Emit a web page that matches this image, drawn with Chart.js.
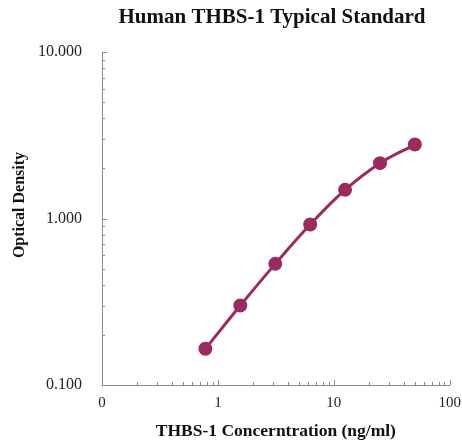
<!DOCTYPE html>
<html>
<head>
<meta charset="utf-8">
<script src="https://cdn.jsdelivr.net/npm/chart.js@4"></script>
<style>
  html, body { margin: 0; padding: 0; background: #fff; }
  #wrap { width: 462px; height: 442px; position: relative; }
</style>
</head>
<body>
<div id="wrap"><canvas id="chart"></canvas></div>
<script>
const title = 'Human THBS-1 Typical Standard';
const xTitle = 'THBS-1 Concerntration (ng/ml)';
const yTitle = 'Optical Density';

const concentrations = [0.78, 1.56, 3.125, 6.25, 12.5, 25, 50];
const densities = [0.165, 0.300, 0.534, 0.920, 1.486, 2.15, 2.78];

const xTicks = [0.1, 1, 10, 100];
const yTicks = [0.1, 1, 10];

const lineColor = '#9a2a5f';
const axisColor = '#8a8a8a';
const serif = "'Liberation Serif', 'Times New Roman', serif";

// minor ticks drawn inward like the original, plus the titles
const decorPlugin = {
    id: 'decor',
    afterDraw: (chart) => {
        const ctx = chart.ctx;
        const area = chart.chartArea;
        const xs = chart.scales.x;
        const ys = chart.scales.y;
        ctx.save();
        ctx.strokeStyle = axisColor;
        ctx.lineWidth = 1;
        for (let d = 0.1; d < 100; d *= 10) {
            for (let m = 1; m <= 10; m++) {
                let v = d * m;
                let len = (m == 1 || m == 10) ? 5 : 3;
                let px = Math.round(xs.getPixelForValue(v)) + 0.5;
                ctx.beginPath();
                ctx.moveTo(px, area.bottom);
                ctx.lineTo(px, area.bottom - len);
                ctx.stroke();
                if (d < 10) {
                    let py = Math.round(ys.getPixelForValue(v)) + 0.5;
                    ctx.beginPath();
                    ctx.moveTo(area.left, py);
                    ctx.lineTo(area.left + len, py);
                    ctx.stroke();
                }
            }
        }
        ctx.fillStyle = '#111';
        ctx.textAlign = 'center';
        ctx.textBaseline = 'middle';
        ctx.font = 'bold 21px ' + serif;
        ctx.fillText(title, 272, 18);
        ctx.translate(20, 205);
        ctx.rotate(-Math.PI / 2);
        ctx.font = 'bold 16px ' + serif;
        ctx.fillText(yTitle, 0, 0);
        ctx.restore();
    }
};

new Chart(
    document.getElementById('chart'),
    {
        type: 'line',
        data: {
            datasets: [
                {
                    label: 'Standard',
                    data: concentrations.map((c, i) => ({x: c, y: densities[i]})),
                    borderColor: lineColor,
                    backgroundColor: lineColor,
                    borderWidth: 3,
                    pointRadius: 5.5,
                    pointHoverRadius: 5.5,
                    tension: 0.4,
                    fill: false
                }
            ]
        },
        options: {
            responsive: true,
            maintainAspectRatio: false,
            animation: false,
            layout: {
                padding: {top: 52, right: 8, left: 0, bottom: 0}
            },
            plugins: {
                legend: {display: false},
                tooltip: {enabled: false}
            },
            scales: {
                x: {
                    type: 'logarithmic',
                    min: 0.1,
                    max: 100,
                    afterBuildTicks: (scale) => {
                        scale.ticks = xTicks.map(v => ({value: v}));
                    },
                    afterFit: (scale) => { scale.height = 57; },
                    grid: {display: false},
                    border: {display: true, color: axisColor},
                    ticks: {
                        color: '#222',
                        font: {family: serif, size: 15},
                        padding: 1,
                        maxRotation: 0,
                        autoSkip: false,
                        callback: (v) => v == 0.1 ? '0' : String(v)
                    },
                    title: {
                        display: true,
                        text: xTitle,
                        color: '#111',
                        font: {family: serif, size: 17.5, weight: 'bold'},
                        padding: {top: 4, bottom: 0}
                    }
                },
                y: {
                    type: 'logarithmic',
                    min: 0.1,
                    max: 10,
                    afterBuildTicks: (scale) => {
                        scale.ticks = yTicks.map(v => ({value: v}));
                    },
                    afterFit: (scale) => { scale.width = 102; },
                    grid: {display: false},
                    border: {display: true, color: axisColor},
                    ticks: {
                        color: '#222',
                        font: {family: serif, size: 16},
                        padding: 12,
                        autoSkip: false,
                        callback: (v) => Number(v).toFixed(3)
                    }
                }
            }
        },
        plugins: [decorPlugin]
    }
);
</script>
</body>
</html>
